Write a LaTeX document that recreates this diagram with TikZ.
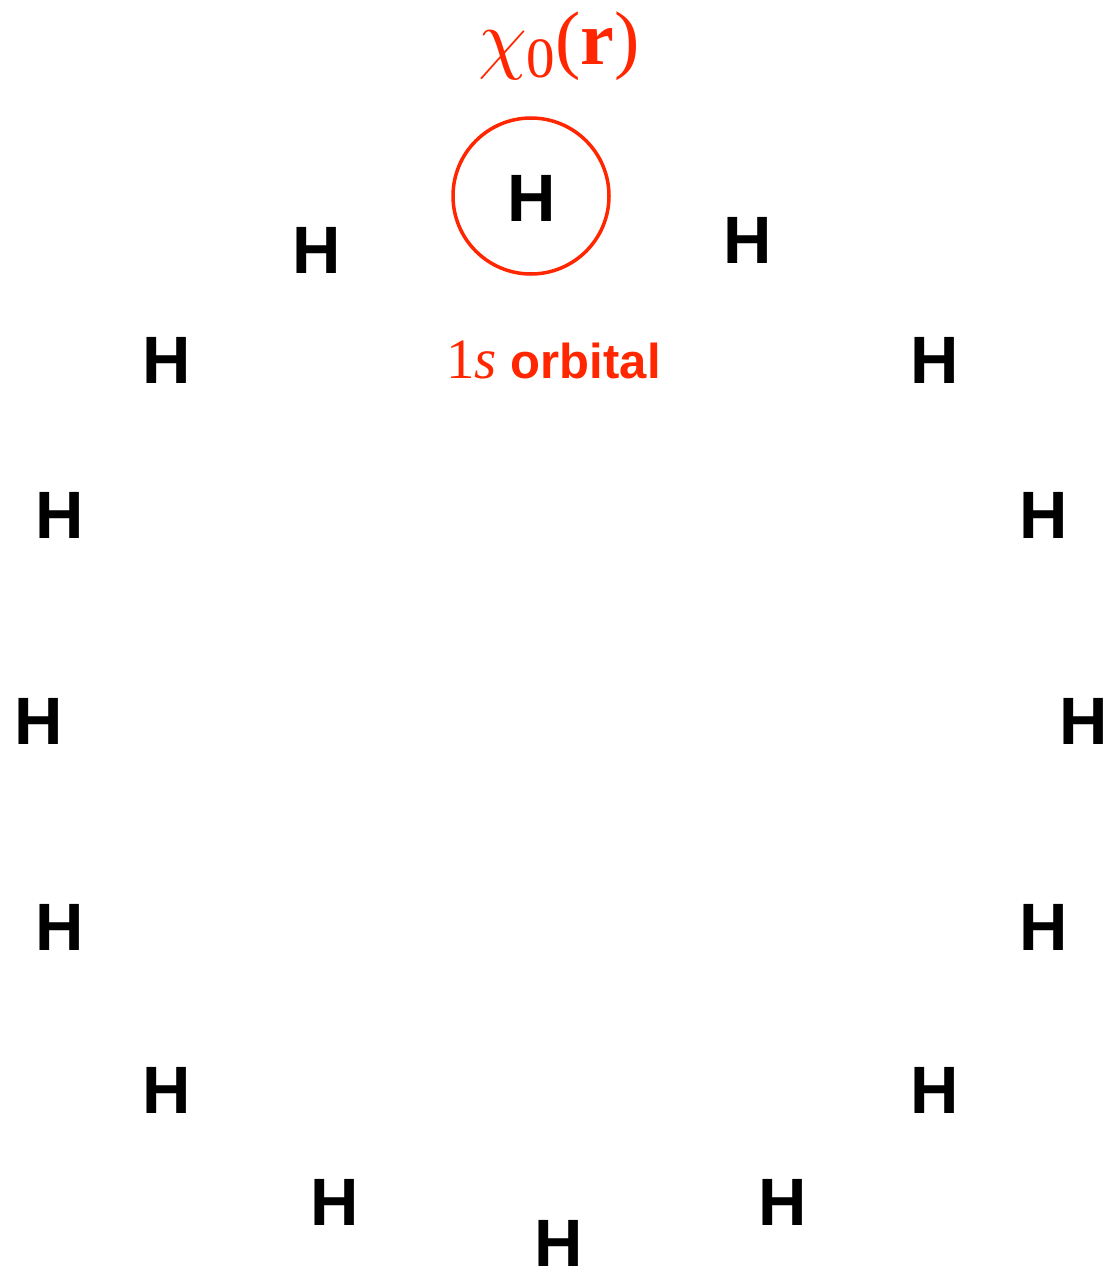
\documentclass[tikz,border=0pt]{standalone}
\usepackage{graphicx}
\usepackage{fontspec}
\setmainfont{Liberation Serif}
\newfontfamily\hfont{Liberation Sans}
\definecolor{orbred}{RGB}{255,38,0}
\begin{document}
\begin{tikzpicture}[x=1pt,y=-1pt,
  atom/.style={inner sep=0pt,font=\hfont\bfseries\fontsize{67}{67}\selectfont},
  orb/.style={draw=orbred,line width=3.5pt,circle,minimum size=156pt,inner sep=0pt}]
\useasboundingbox (0,0) rectangle (1108,1272);
\node[orb] (c) at (531,196) {};
\node[atom] (h1) at (532,198) {H};
\node[atom] (h2) at (317,250) {H};
\node[atom] (h3) at (748,240) {H};
\node[atom] (h4) at (167,360) {H};
\node[atom] (h5) at (935,360) {H};
\node[atom] (h6) at (60,515) {H};
\node[atom] (h7) at (1044,515) {H};
\node[atom] (h8) at (39,721) {H};
\node[atom] (h9) at (1084,721) {H};
\node[atom] (h10) at (60,927) {H};
\node[atom] (h11) at (1044,927) {H};
\node[atom] (h12) at (167,1090) {H};
\node[atom] (h13) at (935,1090) {H};
\node[atom] (h14) at (335,1202) {H};
\node[atom] (h15) at (783,1202) {H};
\node[atom] (h16) at (559,1243) {H};
\node[anchor=base,inner sep=0pt,text=orbred,font=\fontsize{76}{76}\selectfont] (chi) at (559,64)
  {{\fontsize{10}{10}\selectfont\scalebox{7.8}{$\chi$}}\raisebox{-13pt}{\fontsize{57}{57}\selectfont 0}(\textbf{r})};
\node[anchor=base west,inner sep=0pt,text=orbred] (lab) at (446,378)
  {\fontsize{57}{57}\selectfont 1\textit{s}\hspace{14pt}\hfont\bfseries\fontsize{49}{49}\selectfont orbital};
\end{tikzpicture}
\end{document}
